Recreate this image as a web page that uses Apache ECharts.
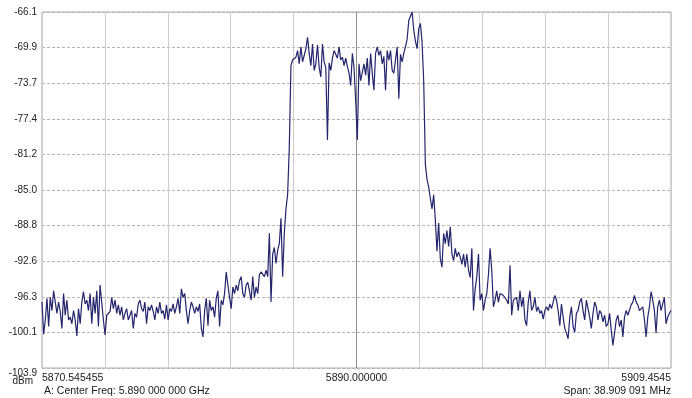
<!DOCTYPE html>
<html>
<head>
<meta charset="utf-8">
<script src="https://cdn.jsdelivr.net/npm/echarts@6/dist/echarts.min.js"></script>
<style>
html,body{margin:0;padding:0;background:#fff;}
#chart{width:692px;height:398px;}
</style>
</head>
<body>
<div id="chart"></div>
<script>
// Sweep: start/stop frequency (MHz) and reference levels (dBm)
const freqStart = 5870.545455;
const freqSpan = 38.909091;
const refTop = -66.1;
const refBottom = -103.9;
const dbPerDiv = 3.78;

const xTickLabels = ['5870.545455', '', '', '', '', '5890.000000', '', '', '', '', '5909.4545'];
const yBottomLabel = '-103.9';
const yUnit = 'dBm';
const footerLeft = 'A: Center Freq: 5.890 000 000 GHz';
const footerRight = 'Span: 38.909 091 MHz';

// Trace levels in dBm, evenly spaced across the span
const levels = [
-96.9,-100.3,-98.8,-96.5,-99.5,-96.4,-97.8,-95.7,-95.5,-98.1,
-96.9,-97.9,-99.7,-96.0,-98.3,-96.7,-98.8,-98.5,-99.2,-97.8,
-98.8,-100.5,-97.6,-99.2,-96.9,-95.8,-97.1,-96.7,-97.8,-96.0,
-99.2,-96.4,-98.1,-95.7,-99.5,-95.1,-94.9,-98.8,-100.4,-98.3,
-98.5,-97.9,-96.4,-97.6,-96.7,-98.1,-97.2,-98.3,-97.4,-98.8,
-98.1,-97.6,-98.8,-98.7,-97.8,-99.7,-98.1,-98.5,-97.1,-96.7,
-97.6,-97.9,-96.9,-99.2,-97.4,-97.8,-97.2,-97.9,-98.8,-97.4,
-98.1,-96.9,-98.1,-97.8,-98.7,-97.2,-98.8,-97.6,-97.9,-97.1,
-98.1,-97.4,-96.5,-98.1,-95.5,-96.4,-96.0,-97.8,-99.2,-97.8,
-96.9,-97.4,-98.1,-97.4,
-97.9,-97.1,-99.7,-100.6,-97.8,-96.5,-99.4,-96.7,-97.8,-97.4,
-98.5,-96.5,-95.7,-99.5,-96.7,-97.2,-96.0,-93.7,-95.1,-96.4,
-97.6,-95.3,-96.0,-95.1,-95.7,-94.6,-94.2,-96.0,-96.4,-95.1,
-94.8,-95.7,-96.7,-94.2,-96.4,-95.3,-96.0,-94.0,-93.7,-93.5,
-94.2,-93.5,-94.2,-89.6,-96.9,-91.8,-91.1,-92.8,-91.4,-90.7,
-88.0,-94.2,-89.6,-87.0,-85.5,-80.5,-71.8,
-71.2,-71.4,-70.9,-70.2,-71.6,-69.8,-71.4,-71.6,-70.0,-68.8,
-70.5,-71.8,-69.5,-72.3,-71.6,-69.6,-72.0,-73.0,-69.5,-71.4,
-72.0,-79.7,-71.5,-72.3,-71.0,-70.2,-70.4,-71.0,-69.8,-71.2,
-70.9,-71.8,-71.0,-71.9,-72.6,-73.9,-70.5,-72.0,-75.5,-79.7,
-71.6,-73.4,-73.5,-71.6,-72.8,-71.0,-73.9,-70.5,-72.6,-74.4,
-70.5,-69.8,-70.7,-70.2,-71.6,-70.8,-74.4,-70.2,-71.2,-70.2,
-72.3,-72.6,-72.4,-69.8,-75.3,-70.6,-71.4,-70.5,-69.8,-69.0,
-67.0,-66.8,-66.1,-68.0,-69.2,-70.0,-67.9,-67.3,-69.3,-73.5,
-82.3,-83.9,-84.7,-85.9,-87.0,-85.5,-88.2,-91.5,-88.5,-92.3,
-93.2,-89.6,-90.7,-89.3,-91.0,-88.9,-91.8,-92.5,-91.2,-92.1,
-91.6,-92.1,-92.9,-91.8,-93.2,-91.8,-93.5,-94.3,-91.2,-97.8,
-95.5,-94.2,-91.8,-96.7,-96.0,-97.8,-96.7,-96.0,-94.0,-91.2,
-93.5,-97.4,-96.7,-95.7,-96.9,-96.0,-95.8,-96.2,-96.4,-96.7,
-97.1,-93.0,-98.3,-96.7,
-96.9,-96.4,-97.8,-95.7,-97.4,-96.4,-98.8,-99.4,-96.9,-95.7,
-97.8,-97.4,-96.4,-97.9,-97.4,-98.1,-97.8,-98.7,-97.8,-97.4,
-97.8,-97.1,-97.6,-96.9,-96.2,-96.7,-97.8,-99.4,-97.1,-98.5,
-99.7,-100.2,-100.8,-98.5,-97.4,-99.5,-100.1,-98.1,-97.8,-96.9,
-96.5,-97.8,-98.8,-96.7,-96.9,-98.5,-99.7,-98.1,-96.9,-97.4,
-98.8,-97.8,-98.1,-99.0,-98.3,-99.5,-99.2,-98.1,-99.9,-101.5,
-100.2,-98.8,-98.3,-99.5,-98.8,-100.6,-98.5,-97.8,-98.3,-98.5,
-97.2,-96.9,-96.2,-96.9,-97.2,-97.8,-97.9,-97.4,-98.8,-100.6,
-98.5,-97.4,-95.8,-96.7,-97.8,-100.2,-97.4,-96.7,-97.8,-97.1,
-96.4,-99.2,-98.5,-98.1,-97.8
];

// Build series in division units (10 divisions each way)
const N = levels.length;
const trace = levels.map((v, i) => [i * 10 / (N - 1), (v - refBottom) / dbPerDiv]);

const vColors = xTickLabels.map((t, i) => i === 5 ? '#8e8e8e' : '#cdcdcd');

const chart = echarts.init(document.getElementById('chart'), null, {renderer: 'canvas'});
chart.setOption({
  animation: false,
  backgroundColor: '#ffffff',
  grid: {left: 42, top: 12, width: 629, height: 356, show: true, borderColor: '#a8a8a8', borderWidth: 1},
  xAxis: {
    type: 'value', min: 0, max: 10, interval: 1,
    axisLine: {show: false}, axisTick: {show: false},
    axisLabel: {
      show: true, margin: 5, color: '#1a1a1a', fontSize: 10.5, fontFamily: 'Arial, Liberation Sans, sans-serif',
      alignMinLabel: 'left', alignMaxLabel: 'right',
      formatter: v => xTickLabels[Math.round(v)] || ''
    },
    splitLine: {show: true, lineStyle: {color: vColors, width: 1, type: 'solid'}}
  },
  yAxis: {
    type: 'value', min: 0, max: 10, interval: 1,
    axisLine: {show: false}, axisTick: {show: false},
    axisLabel: {
      show: true, margin: 5, color: '#222', fontSize: 10, fontFamily: 'Arial, Liberation Sans, sans-serif',
      formatter: v => v === 0 ? '' : (refBottom + v * dbPerDiv).toFixed(1)
    },
    splitLine: {show: true, lineStyle: {color: '#b4b4b4', width: 1, type: [3, 2]}}
  },
  series: [{
    type: 'line',
    data: trace,
    showSymbol: false,
    silent: true,
    lineStyle: {color: '#25256e', width: 1.2},
    markPoint: {
      symbol: 'diamond', symbolSize: 6, silent: true,
      itemStyle: {color: '#ea4fe0'},
      label: {show: false},
      data: [{type: 'max'}]
    }
  }],
  graphic: [
    {type: 'text', x: 37, y: 373, style: {text: yBottomLabel, align: 'right', verticalAlign: 'middle', font: '10px Arial, "Liberation Sans", sans-serif', fill: '#222'}},
    {type: 'text', x: 33, y: 381, style: {text: yUnit, align: 'right', verticalAlign: 'middle', font: '10px Arial, "Liberation Sans", sans-serif', fill: '#222'}},
    {type: 'text', x: 44, y: 391, style: {text: footerLeft, align: 'left', verticalAlign: 'middle', font: '10.5px Arial, "Liberation Sans", sans-serif', fill: '#1a1a1a'}},
    {type: 'text', x: 671, y: 391, style: {text: footerRight, align: 'right', verticalAlign: 'middle', font: '10.5px Arial, "Liberation Sans", sans-serif', fill: '#1a1a1a'}}
  ]
});
</script>
</body>
</html>
